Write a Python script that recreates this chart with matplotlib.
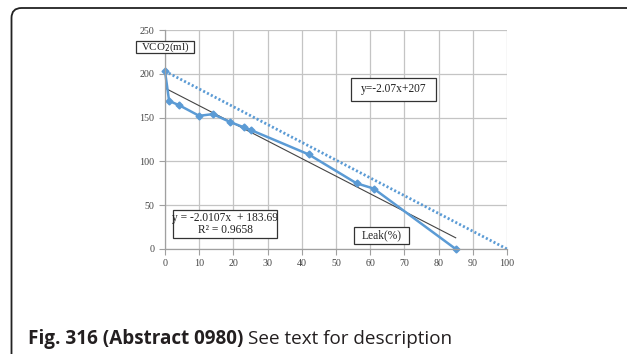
import matplotlib
matplotlib.use("Agg")
import matplotlib.pyplot as plt
from matplotlib.patches import Rectangle, PathPatch
from matplotlib.path import Path
from matplotlib.transforms import IdentityTransform

leak = [0, 1.2, 4.2, 10, 14, 19, 23, 25, 42, 56, 61, 85]
vco2 = [203, 169, 164, 152, 154, 145, 139, 136, 108, 75, 69, 0]
trend_x = [0, 85]
trend_y = [183.69, 12.78]
ideal_x = [0, 100]
ideal_y = [203, 0]
xticks = list(range(0, 101, 10))
yticks = [0, 50, 100, 150, 200, 250]

blue = "#5b9bd5"
serif = "Liberation Serif"
W, H = 627, 354

fig = plt.figure(figsize=(W / 100, H / 100), dpi=100)
# outer frame (pixel coords): top edge, rounded corner, left edge
L, T, R = 11.5, H - 8, 10
frame_path = Path([(W + 20, T), (L + R, T), (L, T), (L, T - R), (L, -20)],
                  [Path.MOVETO, Path.LINETO, Path.CURVE3, Path.CURVE3, Path.LINETO])
fig.add_artist(PathPatch(frame_path, transform=IdentityTransform(), fill=False,
                         edgecolor="#222222", linewidth=1.3))

ax = fig.add_axes([165 / W, 1 - 249 / H, (507 - 165) / W, (249 - 30) / H])
ax.set_xlim(0, 100)
ax.set_ylim(0, 250)
ax.set_xticks(xticks)
ax.set_yticks(yticks)
ax.grid(True, color="#c4c4c4", linewidth=0.9)
ax.set_axisbelow(True)
for s in ["top", "right"]:
    ax.spines[s].set_visible(False)
for s in ["left", "bottom"]:
    ax.spines[s].set_color("#a0a0a0")
    ax.spines[s].set_linewidth(0.9)
ax.tick_params(colors="#a0a0a0", length=4, width=0.8, labelsize=7.2, labelcolor="#444444")
for lab in ax.get_xticklabels() + ax.get_yticklabels():
    lab.set_fontfamily(serif)

ax.plot(ideal_x, ideal_y, color=blue, linestyle=(0, (0.75, 0.8)), linewidth=2.0, clip_on=False)
ax.plot(trend_x, trend_y, color="#444444", linewidth=0.8)
ax.plot(leak, vco2, color=blue, linewidth=1.8, marker="D", markersize=3.5, clip_on=False)


def box(x0, y0, x1, y1, text, size=8.3, ls=1.05):
    r = Rectangle((x0 / W, 1 - y1 / H), (x1 - x0) / W, (y1 - y0) / H,
                  transform=fig.transFigure, facecolor="white", edgecolor="#333333",
                  linewidth=0.9, zorder=5)
    fig.add_artist(r)
    t = fig.text((x0 + x1) / 2 / W, 1 - (y0 + y1) / 2 / H, text, fontsize=size,
                 family=serif, ha="center", va="center", ma="center",
                 linespacing=ls, color="#222222", zorder=6)
    return t


box(136, 41, 194, 53, "VCO$_2$(ml)", size=7.8)
box(351, 78, 436, 101, "y=-2.07x+207")
box(173, 210, 277, 238, "y = -2.0107x  + 183.69\nR² = 0.9658", size=8.3, ls=1.0)
box(354, 227, 409, 244, "Leak(%)")

t1 = fig.text(28 / W, 1 - 344 / H, "Fig. 316 (Abstract 0980)", fontsize=13.6,
              family="Open Sans", fontweight="bold", va="baseline", color="#231f20")
fig.canvas.draw()
r = t1.get_window_extent()
fig.text((r.x1 + 5) / W, 1 - 344 / H, "See text for description", fontsize=13.6,
         family="Open Sans", va="baseline", color="#231f20")

fig.savefig("out.png", dpi=100)
